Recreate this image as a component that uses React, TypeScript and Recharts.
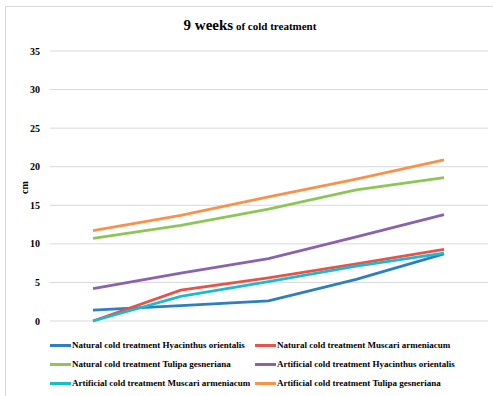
import React from "react";
import { LineChart, Line, XAxis, YAxis, CartesianGrid } from "recharts";

const categories = ["1", "2", "3", "4", "5"];
const naturalHyacinthus = [1.4, 2.0, 2.6, 5.4, 8.7];
const naturalMuscari = [0, 4.0, 5.6, 7.4, 9.3];
const naturalTulipa = [10.7, 12.4, 14.5, 17.0, 18.6];
const artificialHyacinthus = [4.2, 6.2, 8.1, 10.9, 13.8];
const artificialMuscari = [0, 3.2, 5.1, 7.1, 8.8];
const artificialTulipa = [11.7, 13.7, 16.1, 18.4, 20.9];
const yTicks = [0, 5, 10, 15, 20, 25, 30, 35];

const series = [
  { key: "nh", name: "Natural cold treatment Hyacinthus orientalis", color: "#2E7EC2", values: naturalHyacinthus },
  { key: "nm", name: "Natural cold treatment Muscari armeniacum", color: "#E5534B", values: naturalMuscari },
  { key: "nt", name: "Natural cold treatment Tulipa gesneriana", color: "#8DC656", values: naturalTulipa },
  { key: "ah", name: "Artificial cold treatment Hyacinthus orientalis", color: "#8A63AC", values: artificialHyacinthus },
  { key: "am", name: "Artificial cold treatment Muscari armeniacum", color: "#19BCCF", values: artificialMuscari },
  { key: "at", name: "Artificial cold treatment Tulipa gesneriana", color: "#F8924A", values: artificialTulipa },
];

const data = categories.map((c, i) => {
  const row: Record<string, string | number> = { cat: c };
  series.forEach((s) => {
    row[s.key] = s.values[i];
  });
  return row;
});

const font = "Liberation Serif, DejaVu Serif, serif";

export default function App() {
  return (
    <div style={{ position: "absolute", left: 0, top: 0, width: 493, height: 396, overflow: "hidden", background: "#fff", fontFamily: font }}>
      <div style={{ position: "absolute", left: 5, top: 6, width: 520, height: 420, border: "1px solid #d9d9d9", boxSizing: "border-box" }} />
      <div style={{ position: "absolute", left: 0, top: 16, width: 500, textAlign: "center", fontWeight: "bold", color: "#000", whiteSpace: "nowrap", fontFamily: font }}>
        <span style={{ fontSize: 15 }}>9 weeks</span>
        <span style={{ fontSize: 11 }}> of cold treatment</span>
      </div>
      <div style={{ position: "absolute", left: 0, top: 0 }}>
        <LineChart width={493} height={396} data={data} margin={{ top: 51, right: 5, left: 0, bottom: 75 }} style={{ fontFamily: font }}>
          <CartesianGrid horizontal={true} vertical={false} stroke="#d9d9d9" strokeWidth={1} />
          <XAxis dataKey="cat" hide padding={{ left: 43, right: 44 }} />
          <YAxis
            width={50}
            domain={[0, 35]}
            ticks={yTicks}
            axisLine={false}
            tickLine={false}
            tickSize={0}
            tickMargin={10}
            tick={{ fontSize: 10, fontWeight: "bold", fill: "#000", fontFamily: font }}
            label={{ value: "cm", angle: -90, position: "insideLeft", offset: 24, dy: 8, style: { fontSize: 10, fontWeight: "bold", fill: "#000", fontFamily: font } }}
          />
          {series.map((s) => (
            <Line
              key={s.key}
              type="linear"
              dataKey={s.key}
              name={s.name}
              stroke={s.color}
              strokeWidth={2.8}
              dot={false}
              isAnimationActive={false}
            />
          ))}
        </LineChart>
      </div>
      {series.map((s, i) => {
        const col = i % 2;
        const row = Math.floor(i / 2);
        const left = col === 0 ? 50 : 255;
        const top = 345 + row * 19;
        return (
          <div key={s.key} style={{ position: "absolute", left, top: top - 7, height: 14, display: "flex", alignItems: "center", whiteSpace: "nowrap", fontFamily: font }}>
            <div style={{ width: 21, height: 3, background: s.color, marginRight: 1 }} />
            <span style={{ fontSize: 9, fontWeight: "bold", color: "#000" }}>{s.name}</span>
          </div>
        );
      })}
    </div>
  );
}
